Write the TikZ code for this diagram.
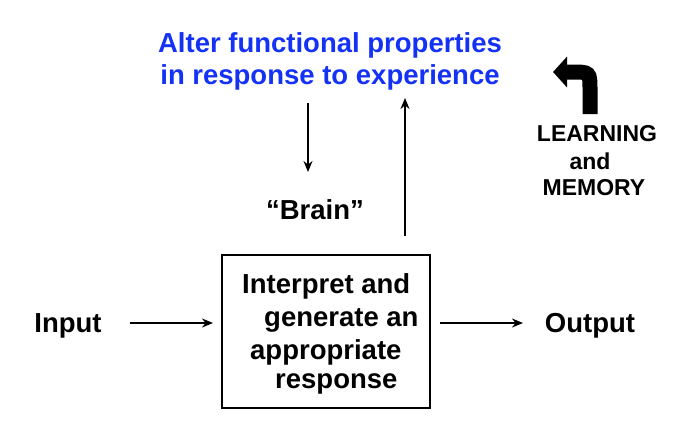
\documentclass[tikz,border=0pt]{standalone}
\usepackage{fontspec}
\setmainfont{Liberation Sans}
\usetikzlibrary{arrows.meta}
\definecolor{tblue}{RGB}{20,50,245}
\begin{document}
\begin{tikzpicture}[x=1pt,y=-1pt,
  big/.style={font=\fontsize{27.5}{32}\selectfont\bfseries,inner sep=0},
  small/.style={font=\fontsize{23}{28}\selectfont\bfseries,inner sep=0},
  arr/.style={-{Stealth[length=11pt,width=9pt]},line width=2pt}]
\useasboundingbox (0,0) rectangle (689,424);
\node[big,text=tblue,align=center] (alter) at (330,61) {Alter functional properties\\in response to experience};
\node[draw,line width=2pt,minimum width=208pt,minimum height=153pt] (box) at (326,331) {};
\node[big,anchor=west] (t1) at (242,286) {Interpret and};
\node[big,anchor=west] (t2) at (264,320) {generate an};
\node[big,anchor=west] (t3) at (250,352) {appropriate};
\node[big,anchor=west] (t4) at (275,384) {response};
\node[big] (brain) at (315,210) {“Brain”};
\node[big] (in) at (68,326) {Input};
\node[big] (out) at (590,326) {Output};
\node[small] (l1) at (597,134) {LEARNING};
\node[small] (l2) at (590,161) {and};
\node[small] (l3) at (594,188) {MEMORY};
\coordinate (d1) at (308,103); \coordinate (d2) at (308,172);
\draw[arr] (d1) -- (d2);
\coordinate (u1) at (405,236); \coordinate (u2) at (405,98);
\draw[arr] (u1) -- (u2);
\coordinate (i1) at (130,323); \coordinate (i2) at (213,323);
\draw[arr] (i1) -- (i2);
\coordinate (o1) at (440,323); \coordinate (o2) at (523,323);
\draw[arr] (o1) -- (o2);
\coordinate (c1) at (590,114); \coordinate (c2) at (553,72);
\draw[line width=15pt,-{Triangle[length=14pt,width=30pt]}] (c1) -- (590,90) .. controls (590,72) .. (572,72) -- (c2);
\end{tikzpicture}
\end{document}
